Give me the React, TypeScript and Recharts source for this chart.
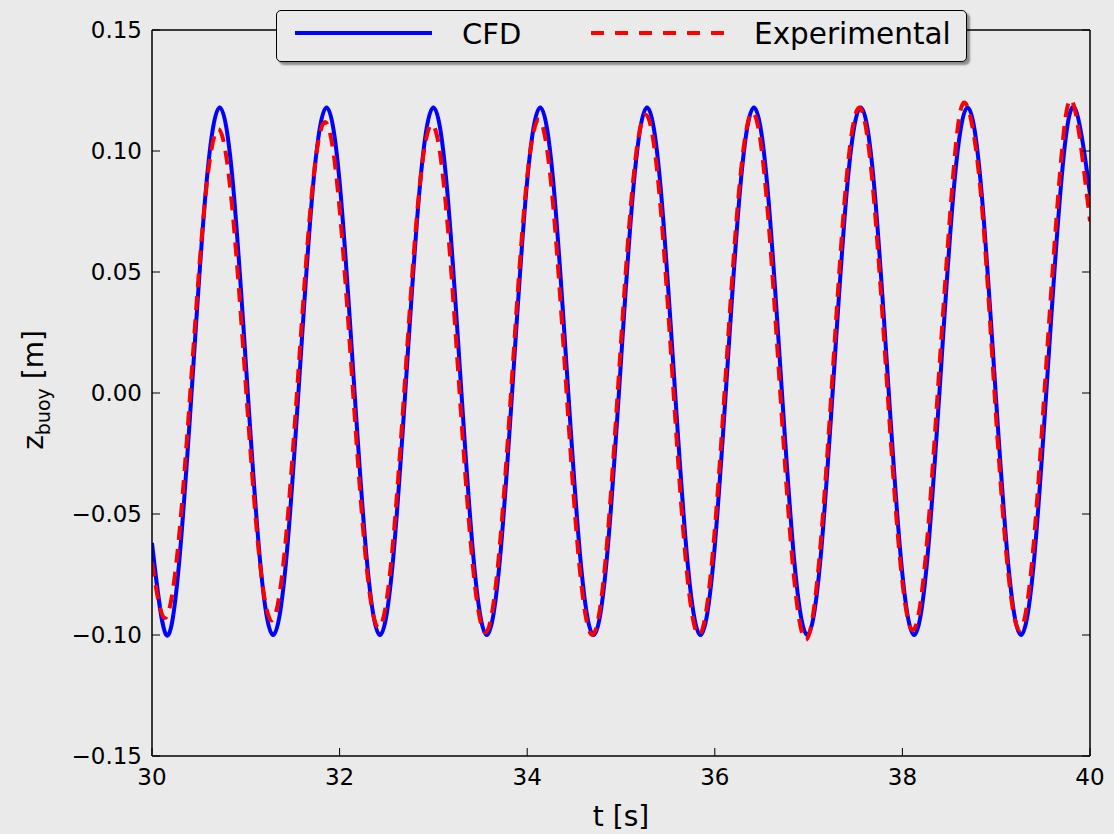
import { LineChart, Line, XAxis, YAxis, Legend } from "recharts";

const FONT = "'DejaVu Sans', sans-serif";
const BG = "#eaeaea";

// time ticks and buoy height ticks
const xTicks = [30, 32, 34, 36, 38, 40];
const yTicks = [-0.15, -0.1, -0.05, 0, 0.05, 0.1, 0.15];

// CFD: troughs, peaks and the points between them
const cfdT = [
  30.0,
  30.152, 30.294, 30.437, 30.579, 30.722, 30.864, 31.006, 31.149,
  31.291, 31.433, 31.576, 31.718, 31.861, 32.003, 32.145, 32.288,
  32.43, 32.572, 32.715, 32.857, 33.0, 33.142, 33.284, 33.427,
  33.569, 33.711, 33.854, 33.996, 34.139, 34.281, 34.423, 34.566,
  34.708, 34.85, 34.993, 35.135, 35.278, 35.42, 35.562, 35.705,
  35.847, 35.989, 36.132, 36.274, 36.417, 36.559, 36.701, 36.844,
  36.986, 37.128, 37.271, 37.413, 37.556, 37.698, 37.84, 37.983,
  38.125, 38.267, 38.41, 38.552, 38.695, 38.837, 38.979, 39.122,
  39.264, 39.406, 39.549, 39.691, 39.834, 39.976, 40.0,
];
const cfdZ = [
  -0.062,
  -0.1, -0.068, 0.009, 0.086, 0.118, 0.086, 0.009, -0.068,
  -0.1, -0.068, 0.009, 0.086, 0.118, 0.086, 0.009, -0.068,
  -0.1, -0.068, 0.009, 0.086, 0.118, 0.086, 0.009, -0.068,
  -0.1, -0.068, 0.009, 0.086, 0.118, 0.086, 0.009, -0.068,
  -0.1, -0.068, 0.009, 0.086, 0.118, 0.086, 0.009, -0.068,
  -0.1, -0.068, 0.009, 0.086, 0.118, 0.086, 0.009, -0.068,
  -0.1, -0.068, 0.009, 0.086, 0.118, 0.086, 0.009, -0.068,
  -0.1, -0.068, 0.009, 0.086, 0.118, 0.086, 0.009, -0.068,
  -0.1, -0.068, 0.009, 0.086, 0.118, 0.089, 0.083,
];

// Experimental
const expT = [
  30.0,
  30.137, 30.279, 30.422, 30.564, 30.707, 30.849, 30.991, 31.134,
  31.276, 31.418, 31.561, 31.703, 31.846, 31.988, 32.13, 32.273,
  32.415, 32.557, 32.7, 32.842, 32.985, 33.127, 33.269, 33.412,
  33.554, 33.696, 33.839, 33.981, 34.124, 34.266, 34.408, 34.551,
  34.693, 34.835, 34.978, 35.12, 35.263, 35.405, 35.547, 35.69,
  35.832, 35.974, 36.117, 36.259, 36.402, 36.544, 36.686, 36.829,
  36.971, 37.113, 37.256, 37.398, 37.541, 37.683, 37.825, 37.968,
  38.11, 38.252, 38.395, 38.537, 38.66, 38.822, 38.964, 39.107,
  39.249, 39.391, 39.534, 39.676, 39.805, 39.945, 40.0,
];
const expZ = [
  -0.07,
  -0.093, -0.063, 0.008, 0.079, 0.109, 0.079, 0.008, -0.064,
  -0.094, -0.064, 0.009, 0.082, 0.112, 0.081, 0.008, -0.066,
  -0.097, -0.067, 0.007, 0.081, 0.111, 0.08, 0.006, -0.068,
  -0.099, -0.068, 0.007, 0.082, 0.113, 0.082, 0.007, -0.069,
  -0.1, -0.069, 0.008, 0.084, 0.115, 0.084, 0.008, -0.069,
  -0.1, -0.068, 0.008, 0.084, 0.116, 0.084, 0.007, -0.07,
  -0.102, -0.069, 0.008, 0.086, 0.118, 0.086, 0.01, -0.066,
  -0.098, -0.066, 0.011, 0.088, 0.12, 0.088, 0.011, -0.066,
  -0.098, -0.066, 0.012, 0.089, 0.121, 0.089, 0.071,
];

const cfdData = cfdT.map((t, i) => ({ t, z: cfdZ[i] }));
const expData = expT.map((t, i) => ({ t, z: expZ[i] }));

const fmtY = (v: number) => v.toFixed(2).replace("-", "\u2212");

// ticks point inwards, matplotlib classic style
function BottomTick({ x, y, payload }: any) {
  return (
    <g>
      <line x1={x} x2={x} y1={y} y2={y - 8} stroke="#000" />
      <text x={x} y={y + 29} textAnchor="middle" fontSize={23} fontFamily={FONT} fill="#000">
        {payload.value}
      </text>
    </g>
  );
}

function TopTick({ x, y }: any) {
  return <line x1={x} x2={x} y1={y} y2={y + 8} stroke="#000" />;
}

function LeftTick({ x, y, payload }: any) {
  return (
    <g>
      <line x1={x} x2={x + 8} y1={y} y2={y} stroke="#000" />
      <text x={x - 10} y={y + 7.5} textAnchor="end" fontSize={23} fontFamily={FONT} fill="#000">
        {fmtY(payload.value)}
      </text>
    </g>
  );
}

function RightTick({ x, y }: any) {
  return <line x1={x} x2={x - 8} y1={y} y2={y} stroke="#000" />;
}

function XLabel({ viewBox }: any) {
  const cx = viewBox.x + viewBox.width / 2;
  return (
    <text x={cx} y={viewBox.y + 70} textAnchor="middle" fontSize={28} fontFamily={FONT} fill="#000">
      t [s]
    </text>
  );
}

function YLabel({ viewBox }: any) {
  const lx = viewBox.x - 29;
  const ly = 390;
  return (
    <text
      x={lx}
      y={ly}
      transform={`rotate(-90, ${lx}, ${ly})`}
      textAnchor="middle"
      fontSize={28}
      fontFamily={FONT}
      fill="#000"
    >
      z
      <tspan dy={7} fontSize={19}>buoy</tspan>
      <tspan dy={-7}> [m]</tspan>
    </text>
  );
}

function LegendBox() {
  return (
    <div
      style={{
        width: 691,
        height: 52,
        boxSizing: "border-box",
        border: "1.5px solid #000",
        borderRadius: 5,
        background: BG,
        boxShadow: "3px 3px 2px rgba(0,0,0,0.4)",
      }}
    >
      <svg width={688} height={49} style={{ display: "block" }}>
        <line x1={18} x2={155} y1={22} y2={22} stroke="#0000ff" strokeWidth={4} />
        <text x={185} y={33} fontSize={29} fontFamily={FONT} fill="#000">CFD</text>
        <line x1={314} x2={448} y1={22} y2={22} stroke="#ff0000" strokeWidth={4} strokeDasharray="13 11" />
        <text x={477} y={33} fontSize={29.5} fontFamily={FONT} fill="#000">Experimental</text>
      </svg>
    </div>
  );
}

export default function App() {
  return (
    <div style={{ position: "absolute", left: 0, top: 0, width: 1114, height: 834, background: BG }}>
      <LineChart width={1114} height={834} margin={{ top: 20, right: 14, bottom: 18, left: 72 }}>
        <XAxis
          dataKey="t"
          type="number"
          domain={[30, 40]}
          ticks={xTicks}
          interval={0}
          allowDataOverflow
          height={60}
          tickSize={0}
          tickMargin={0}
          tickLine={false}
          axisLine={{ stroke: "#000", strokeWidth: 1.5 }}
          tick={<BottomTick />}
          label={<XLabel />}
        />
        <XAxis
          xAxisId="top"
          orientation="top"
          type="number"
          domain={[30, 40]}
          ticks={xTicks}
          interval={0}
          allowDataOverflow
          height={10}
          tickSize={0}
          tickMargin={0}
          tickLine={false}
          axisLine={{ stroke: "#000", strokeWidth: 1.5 }}
          tick={<TopTick />}
        />
        <YAxis
          type="number"
          domain={[-0.15, 0.15]}
          ticks={yTicks}
          interval={0}
          allowDataOverflow
          width={80}
          tickSize={0}
          tickMargin={0}
          tickLine={false}
          axisLine={{ stroke: "#000", strokeWidth: 1.5 }}
          tick={<LeftTick />}
          label={<YLabel />}
        />
        <YAxis
          yAxisId="right"
          orientation="right"
          type="number"
          domain={[-0.15, 0.15]}
          ticks={yTicks}
          interval={0}
          allowDataOverflow
          width={10}
          tickSize={0}
          tickMargin={0}
          tickLine={false}
          axisLine={{ stroke: "#000", strokeWidth: 1.5 }}
          tick={<RightTick />}
        />
        <Legend
          layout="horizontal"
          verticalAlign="middle"
          align="center"
          wrapperStyle={{ top: 10, left: 276, width: 691, height: 52 }}
          content={() => <LegendBox />}
        />
        <Line
          data={cfdData}
          dataKey="z"
          name="CFD"
          type="natural"
          stroke="#0000ff"
          strokeWidth={4}
          dot={false}
          isAnimationActive={false}
        />
        <Line
          data={expData}
          dataKey="z"
          name="Experimental"
          type="natural"
          stroke="#ff0000"
          strokeWidth={4}
          strokeDasharray="14 9"
          dot={false}
          isAnimationActive={false}
        />
      </LineChart>
    </div>
  );
}
